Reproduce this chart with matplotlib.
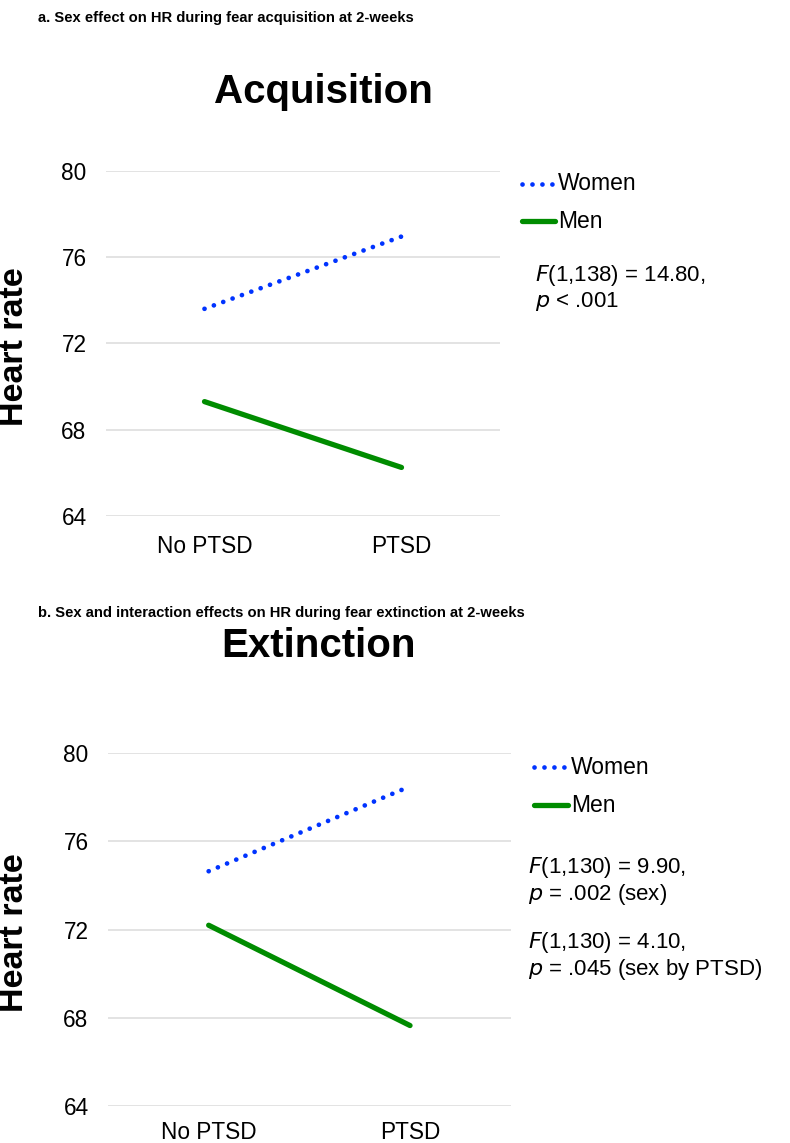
import matplotlib
matplotlib.use("Agg")
import matplotlib.pyplot as plt
from matplotlib import font_manager
from matplotlib.lines import Line2D

names = {f.name for f in font_manager.fontManager.ttflist}
NARROW = "Liberation Sans Narrow" if "Liberation Sans Narrow" in names else "Liberation Sans"
plt.rcParams['font.family'] = ['Liberation Sans', 'DejaVu Sans']

categories = ["No PTSD", "PTSD"]
yticks = [64, 68, 72, 76, 80]

acq_women = [73.6, 76.95]
acq_men = [69.3, 66.25]
ext_women = [74.65, 78.5]
ext_men = [72.2, 67.65]

BLUE = "#0033FF"
GREEN = "#008C00"
GRID = "#DEDEDE"
TITLE_SIZE = 14 if NARROW == "Liberation Sans Narrow" else 10.6

fig = plt.figure(figsize=(7.9, 11.43), dpi=100)
W, H = 790, 1143

def px_axes(x0, x1, ytop, ybot):
    return fig.add_axes([x0 / W, 1 - ybot / H, (x1 - x0) / W, (ybot - ytop) / H])

def draw_panel(ax, women, men, xpad):
    xs = range(len(categories))
    ax.plot(xs, women, color=BLUE, lw=3.4, linestyle=(0, (0.01, 2.1)),
            dash_capstyle='round', zorder=3)
    ax.plot(xs, men, color=GREEN, lw=3.8, solid_capstyle='round', zorder=3)
    ax.set_xlim(-0.5, 1.5)
    ax.set_ylim(64, 80)
    ax.set_yticks(yticks)
    ax.set_xticks(list(xs))
    ax.set_xticklabels(categories)
    ax.grid(axis='y', color=GRID, lw=1.2)
    ax.set_axisbelow(True)
    for s in ax.spines.values():
        s.set_visible(False)
    ax.tick_params(axis='both', length=0, labelsize=16.3)
    ax.tick_params(axis='y', pad=14)
    ax.tick_params(axis='x', pad=xpad)

def legend(x0, x1, yw, ym):
    fig.add_artist(Line2D([x0 / W, x1 / W], [1 - yw / H, 1 - yw / H], color=BLUE, lw=3.4,
                          linestyle=(0, (0.01, 2.1)), dash_capstyle='round'))
    fig.add_artist(Line2D([x0 / W, x1 / W], [1 - ym / H, 1 - ym / H], color=GREEN, lw=3.8,
                          solid_capstyle='round'))
    fig.text((x1 + 3) / W, 1 - yw / H, "Women", fontsize=16.5, va='center', ha='left')
    fig.text((x1 + 3) / W, 1 - ym / H, "Men", fontsize=16.5, va='center', ha='left')

# Panel a
fig.text(38 / W, 1 - 18 / H, "a. Sex effect on HR during fear acquisition at 2-weeks",
         family=NARROW, fontweight='bold', fontsize=TITLE_SIZE, va='center', ha='left')
fig.text(323 / W, 1 - 92 / H, "Acquisition", fontweight='bold', fontsize=29,
         va='center', ha='center')
ax1 = px_axes(106, 500, 170.7, 516)
draw_panel(ax1, acq_women, acq_men, 14)
fig.text(15 / W, 1 - 347 / H, "Heart rate", fontweight='bold', fontsize=24.5,
         rotation=90, va='center', ha='center')
legend(522, 555, 184, 221)
fig.text(535 / W, 1 - 288 / H, r"$F$(1,138) = 14.80," + "\n" + r"$p$ < .001",
         fontsize=16, va='center', ha='left', linespacing=1.1)

# Panel b
fig.text(38 / W, 1 - 613 / H, "b. Sex and interaction effects on HR during fear extinction at 2-weeks",
         family=NARROW, fontweight='bold', fontsize=TITLE_SIZE, va='center', ha='left')
fig.text(319 / W, 1 - 646 / H, "Extinction", fontweight='bold', fontsize=29,
         va='center', ha='center')
ax2 = px_axes(108, 510.7, 753.3, 1106)
draw_panel(ax2, ext_women, ext_men, 11)
fig.text(15 / W, 1 - 933 / H, "Heart rate", fontweight='bold', fontsize=24.5,
         rotation=90, va='center', ha='center')
legend(534, 568, 767, 805)
fig.text(528 / W, 1 - 881 / H, r"$F$(1,130) = 9.90," + "\n" + r"$p$ = .002 (sex)",
         fontsize=16, va='center', ha='left', linespacing=1.1)
fig.text(528 / W, 1 - 956 / H, r"$F$(1,130) = 4.10," + "\n" + r"$p$ = .045 (sex by PTSD)",
         fontsize=16, va='center', ha='left', linespacing=1.1)

fig.savefig("out.png", dpi=100)
